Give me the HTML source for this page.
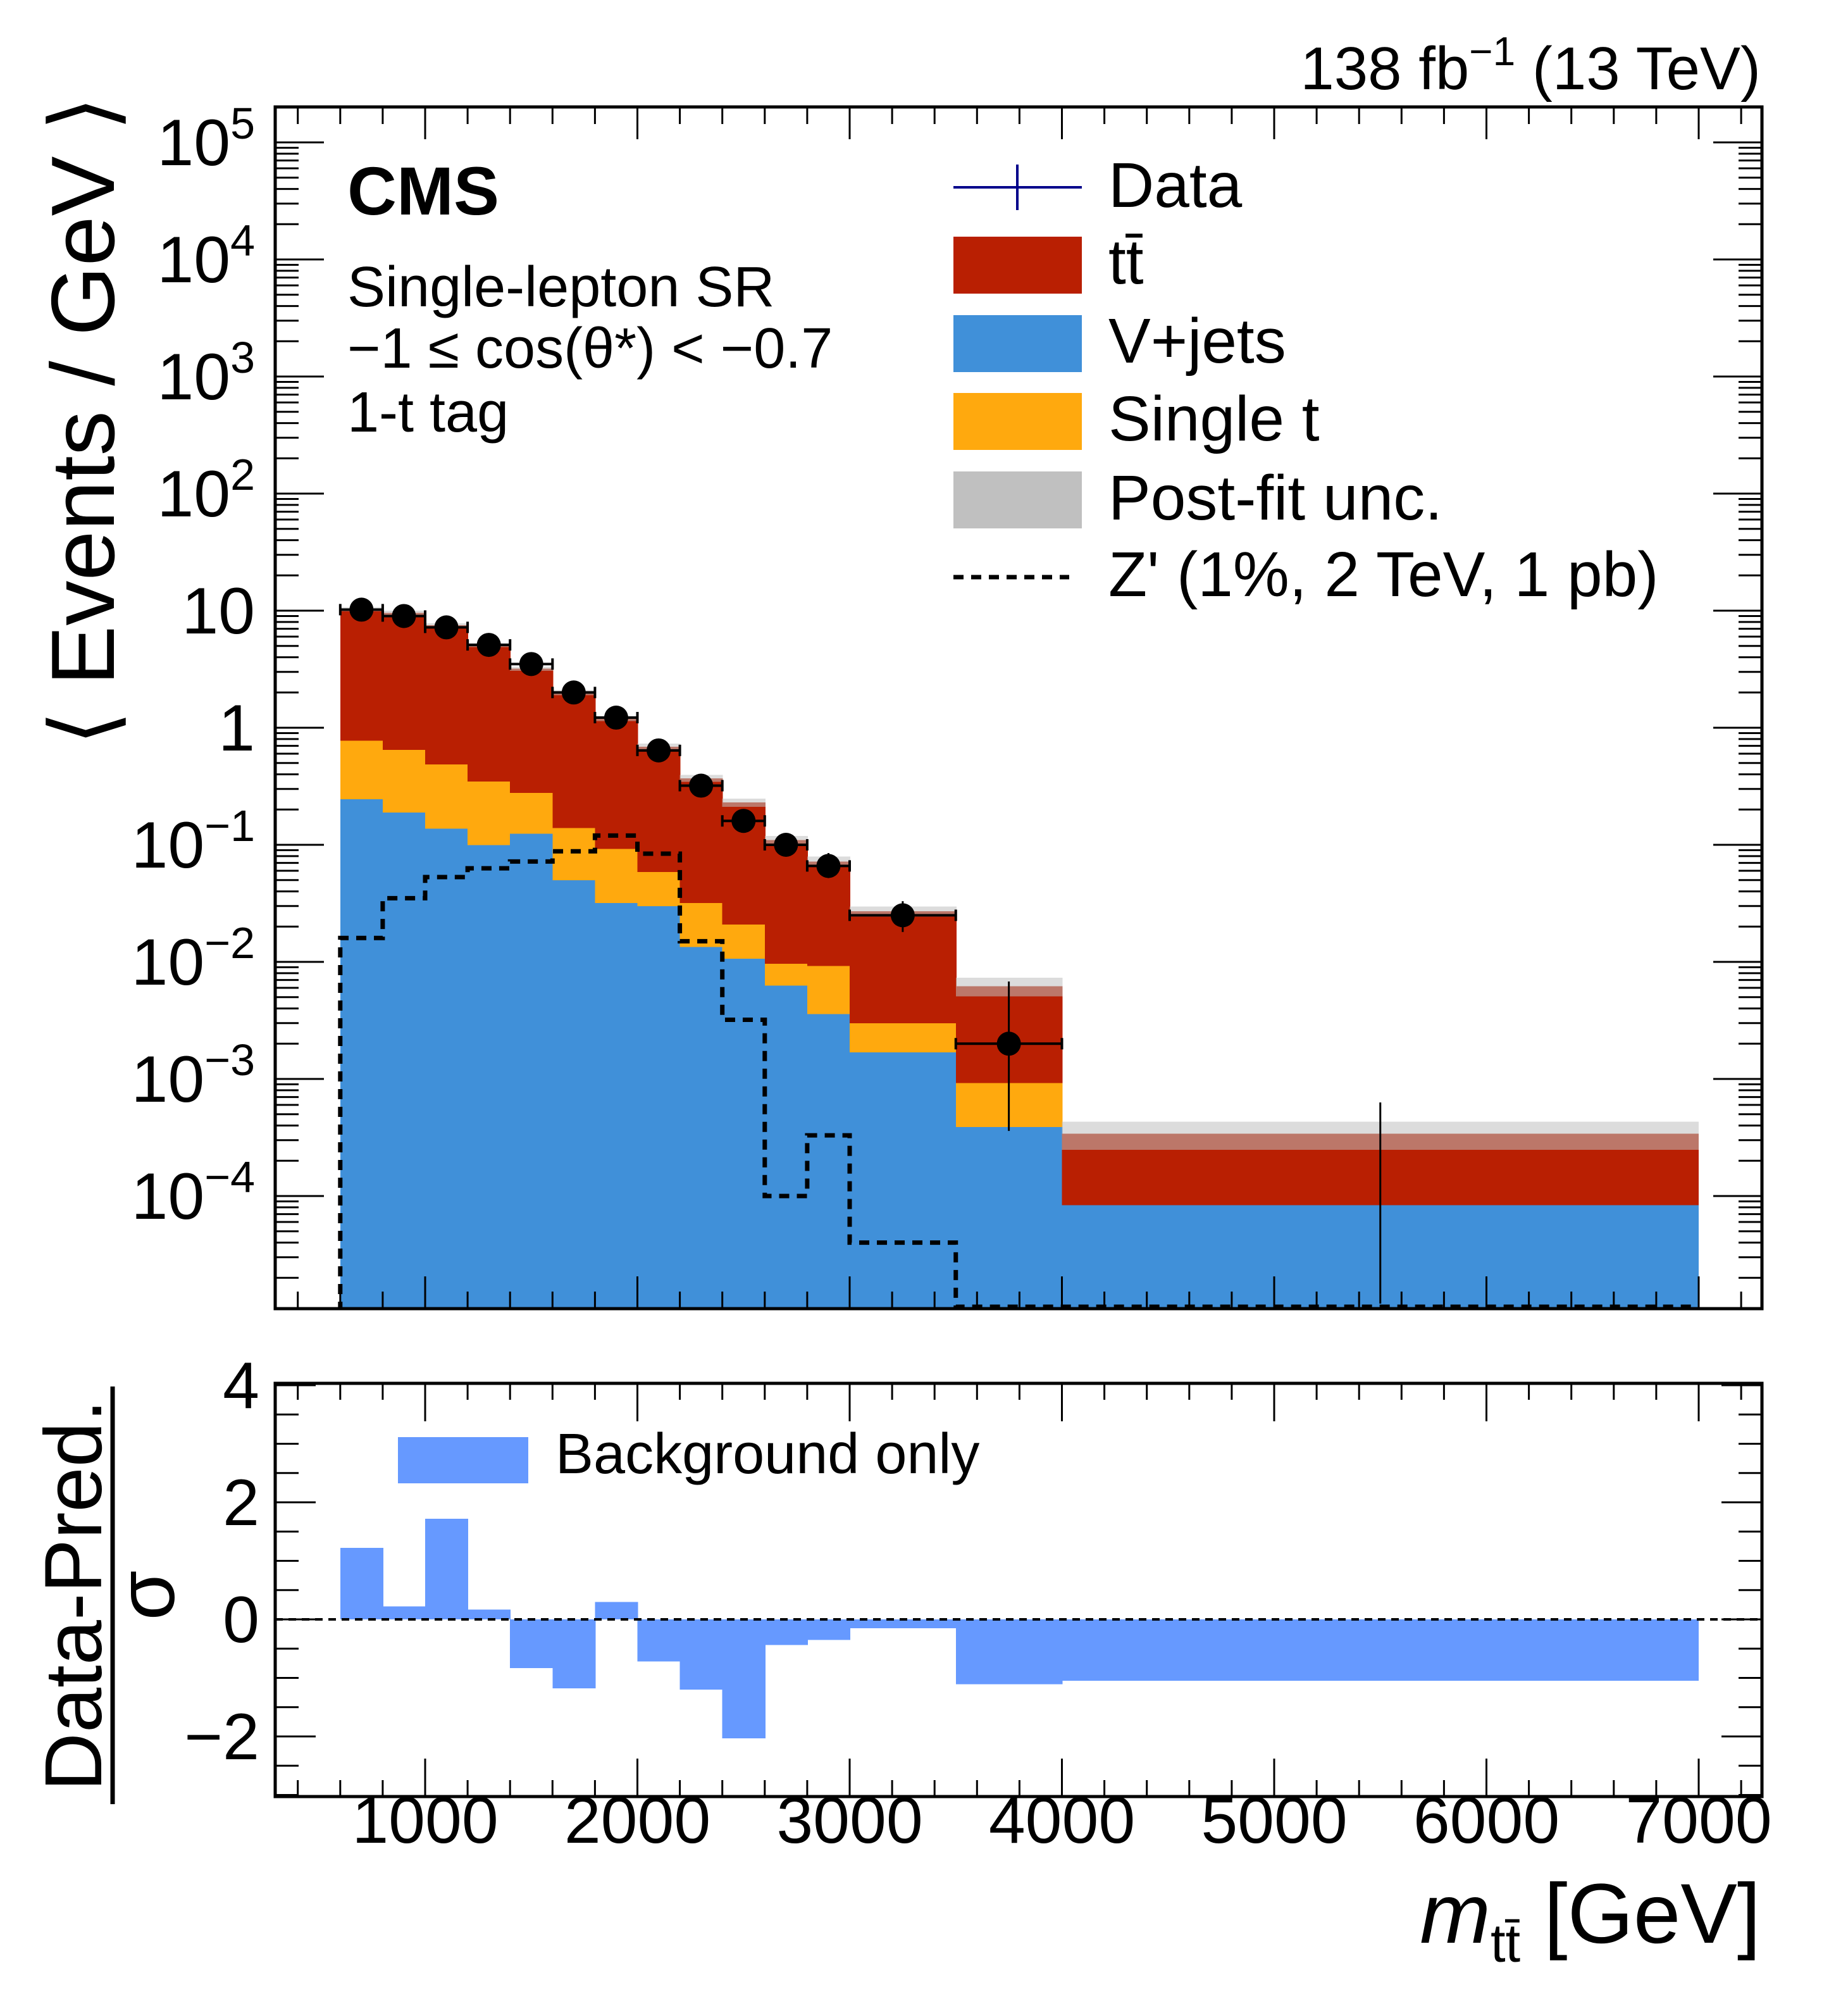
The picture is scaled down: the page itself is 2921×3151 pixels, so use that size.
<!DOCTYPE html>
<html><head><meta charset="utf-8"><style>
html,body{margin:0;padding:0;background:#fff}
svg{display:block}
text{font-family:"Liberation Sans",Arial,sans-serif;fill:#000}
</style></head><body>
<svg id="c" width="2921" height="3151" viewBox="0 0 2921 3151" xmlns="http://www.w3.org/2000/svg">
<defs>
<clipPath id="clipMain"><rect x="435" y="169" width="2350" height="1899"/></clipPath>
<clipPath id="clipRatio"><rect x="435" y="2186" width="2350" height="653"/></clipPath>
</defs>
<g id="main"></g>
<g id="ratio"></g>
<g id="labels">
<text x="2783" y="141" font-size="96" text-anchor="end">138 fb<tspan dy="-38" font-size="64">−1</tspan><tspan dy="38"> (13 TeV)</tspan></text>
<text x="549" y="339" font-size="108" font-weight="bold">CMS</text>
<text x="549" y="484" font-size="90">Single-lepton SR</text>
<text x="549" y="581" font-size="90">−1 ≤ cos(θ*) &lt; −0.7</text>
<text x="549" y="682" font-size="90">1-t tag</text>
<g>
<g><line x1="1507" y1="296" x2="1710" y2="296" stroke="#00008b" stroke-width="4"/><line x1="1608" y1="260" x2="1608" y2="332" stroke="#00008b" stroke-width="4"/><text x="1752" y="327" font-size="100">Data</text></g>
<g><rect x="1507" y="374" width="203" height="90" fill="#b91f02"/><text x="1752" y="448" font-size="100">tt̄</text></g>
<g><rect x="1507" y="498" width="203" height="90" fill="#4090d9"/><text x="1752" y="573" font-size="100">V+jets</text></g>
<g><rect x="1507" y="621" width="203" height="90" fill="#ffa90e"/><text x="1752" y="696" font-size="100">Single t</text></g>
<g><rect x="1507" y="745" width="203" height="90" fill="#c0c0c0"/><text x="1752" y="821" font-size="100">Post-fit unc.</text></g>
<g><line x1="1507" y1="912" x2="1690" y2="912" stroke="#000" stroke-width="7" stroke-dasharray="16,12"/><text x="1752" y="942" font-size="100">Z' (1%, 2 TeV, 1 pb)</text></g>
</g>
<g><rect x="629" y="2271" width="206" height="73" fill="#6699ff"/><text x="878" y="2328" font-size="90">Background only</text></g>
<text transform="translate(180,665) rotate(-90)" font-size="142" text-anchor="middle">⟨ Events / GeV ⟩</text>
<g transform="translate(0,2521) rotate(-90)">
<text x="0" y="160" font-size="128" text-anchor="middle">Data-Pred.</text>
<line x1="-330" y1="178" x2="330" y2="178" stroke="#000" stroke-width="7"/>
<text x="0" y="275" font-size="128" text-anchor="middle">σ</text>
</g>
<text x="2783" y="3070" font-size="134" text-anchor="end"><tspan font-style="italic">m</tspan><tspan dy="30" font-size="85">tt̄</tspan><tspan dy="-30"> [GeV]</tspan></text>
</g>
</svg>
<script>
// ---- data ----
const binEdges = [600,800,1000,1200,1400,1600,1800,2000,2200,2400,2600,2800,3000,3500,4000,7000];
const vjets   = [0.247,0.19,0.138,0.10,0.125,0.05,0.032,0.03,0.0135,0.0107,0.0063,0.0036,0.0017,0.00039,0.000084];
const singleT = [0.533,0.46,0.352,0.25,0.155,0.09,0.061,0.029,0.0185,0.0103,0.0034,0.0057,0.0013,0.00054,0];
const ttbar   = [9.52,8.95,7.01,4.75,2.92,1.86,1.107,0.631,0.338,0.209,0.1003,0.0627,0.024,0.00527,0.000256];
const uncRel  = [0.04,0.04,0.04,0.04,0.04,0.05,0.05,0.06,0.07,0.08,0.08,0.1,0.1,0.18,0.27];
const dataVal = [10.2,9.0,7.2,5.1,3.5,2.0,1.22,0.64,0.32,0.16,0.1,0.066,0.025,0.002,0];
const dataHi  = [10.7,9.5,7.6,5.5,3.8,2.2,1.35,0.71,0.37,0.19,0.12,0.085,0.033,0.0068,0.00063];
const dataLo  = [9.7,8.5,6.8,4.7,3.2,1.8,1.1,0.57,0.28,0.135,0.083,0.052,0.018,0.00036,0];
const zprime  = [0.016,0.035,0.053,0.063,0.072,0.088,0.12,0.084,0.015,0.0032,0.0001,0.00033,0.00004,0,0];
const ratioVal= [1.22,0.22,1.72,0.17,-0.83,-1.18,0.3,-0.72,-1.2,-2.03,-0.44,-0.35,-0.15,-1.11,-1.05];
const xTicks = [1000,2000,3000,4000,5000,6000,7000];
const yDecades = [-4,-3,-2,-1,0,1,2,3,4,5];
const ratioTicks = [-2,0,2,4];

const NS="http://www.w3.org/2000/svg";
const L=435,R=2785,MT=169,MB=2068,RT=2186,RB=2839;
const X=v=>336.5+v*0.3355;
const YL=v=>{if(v<=0)return MB+20;return 225+(5-Math.log10(v))*185;};
const YR=v=>2559-v*92.5;
function el(tag,attrs,parent){const e=document.createElementNS(NS,tag);for(const k in attrs)e.setAttribute(k,attrs[k]);parent.appendChild(e);return e;}
const main=document.getElementById('main'), ratio=document.getElementById('ratio');
const mg=el('g',{'clip-path':'url(#clipMain)','shape-rendering':'crispEdges'},main);
const n=ttbar.length;
for(let i=0;i<n;i++){
  const x0=X(binEdges[i]),x1=X(binEdges[i+1]);
  const w=x1-x0+(i<n-1?1:0);
  const v=vjets[i],s=v+singleT[i],t=s+ttbar[i];
  let r=el('rect',{x:x0,y:YL(v),width:w,height:Math.max(0,MB+20-YL(v)),fill:'#4090d9'},mg);
  
  
  if(singleT[i]>0){r=el('rect',{x:x0,y:YL(s),width:w,height:YL(v)-YL(s)+0.5,fill:'#ffa90e'},mg);
  
  }
  r=el('rect',{x:x0,y:YL(t),width:w,height:YL(s)-YL(t)+0.5,fill:'#b91f02'},mg);
  
  
  r=el('rect',{x:x0,y:YL(t*(1+uncRel[i])),width:w,height:YL(t*(1-uncRel[i]))-YL(t*(1+uncRel[i])),fill:'#c0c0c0','fill-opacity':0.55},mg);
  
  
}
const lg=el('g',{'clip-path':'url(#clipMain)'},main);
let d='M'+X(binEdges[0])+','+(MB+5);
for(let i=0;i<n;i++){const y=Math.min(YL(zprime[i]),MB-3);d+=' L'+X(binEdges[i])+','+y+' L'+X(binEdges[i+1])+','+y;}
let zp=el('path',{d:d,fill:'none',stroke:'#000','stroke-width':7,'stroke-dasharray':'16,12'},lg);


for(let i=0;i<n;i++){
  const x0=X(binEdges[i]),x1=X(binEdges[i+1]),xc=(x0+x1)/2;
  const g=el('g',{},lg);
  
  
  const yh=YL(dataHi[i]),yl=Math.min(YL(dataLo[i]),MB-8);
  el('line',{x1:xc,y1:yh,x2:xc,y2:yl,stroke:'#000','stroke-width':3},g);
  if(dataVal[i]>0){
    const y=YL(dataVal[i]);
    el('line',{x1:x0,y1:y,x2:x1,y2:y,stroke:'#000','stroke-width':4},g);
    el('line',{x1:x0,y1:y-9,x2:x0,y2:y+9,stroke:'#000','stroke-width':4},g);
    el('line',{x1:x1,y1:y-9,x2:x1,y2:y+9,stroke:'#000','stroke-width':4},g);
    el('circle',{cx:xc,cy:y,r:19,fill:'#000'},g);
  }
}
function ticksX(top,bot,maj,mnr,parent){
  for(let v=400;v<=7200;v+=200){const x=X(v);const major=v%1000===0;const len=major?maj:mnr;
    el('line',{x1:x,y1:top,x2:x,y2:top+len,stroke:'#000','stroke-width':3},parent);
    el('line',{x1:x,y1:bot,x2:x,y2:bot-len,stroke:'#000','stroke-width':3},parent);}
}
const ax=el('g',{},main);


ticksX(MT,MB,51,27,ax);
for(let e=-5;e<=5;e++){
  for(let m=1;m<=9;m++){const v=m*Math.pow(10,e);const y=YL(v);if(y<MT+2||y>MB-2)continue;const len=m===1?77:37;
    el('line',{x1:L,y1:y,x2:L+len,y2:y,stroke:'#000','stroke-width':3},ax);
    el('line',{x1:R,y1:y,x2:R-len,y2:y,stroke:'#000','stroke-width':3},ax);}
}
for(const e of yDecades){
  const y=YL(Math.pow(10,e))+36;
  const t=el('text',{x:403,y:y,'font-size':104,'text-anchor':'end'},ax);
  
  
  if(e===0)t.textContent='1';else if(e===1)t.textContent='10';
  else{t.appendChild(document.createTextNode('10'));const s=el('tspan',{dy:-42,'font-size':70},t);s.textContent=e<0?'−'+(-e):String(e);}
}
el('rect',{x:L,y:MT,width:R-L,height:MB-MT,fill:'none',stroke:'#000','stroke-width':5},ax);
const rg=el('g',{'clip-path':'url(#clipRatio)','shape-rendering':'crispEdges'},ratio);
for(let i=0;i<n;i++){
  const x0=X(binEdges[i]),x1=X(binEdges[i+1]);const v=ratioVal[i];
  const r=el('rect',{x:x0,y:Math.min(YR(v),YR(0)),width:x1-x0+(i<n-1?1:0),height:Math.abs(YR(v)-YR(0)),fill:'#6699ff'},rg);
  
  
}
const zl=el('line',{x1:L,y1:YR(0),x2:R,y2:YR(0),stroke:'#000','stroke-width':4,'stroke-dasharray':'12,9'},ratio);


const rax=el('g',{},ratio);


ticksX(RT,RB,60,26,rax);
for(let v=-3;v<=4.01;v+=0.5){const y=YR(v);if(y<RT+2||y>RB-2)continue;const len=(Math.abs(v%2)<0.01)?64:37;
  el('line',{x1:L,y1:y,x2:L+len,y2:y,stroke:'#000','stroke-width':3},rax);
  el('line',{x1:R,y1:y,x2:R-len,y2:y,stroke:'#000','stroke-width':3},rax);}
for(const v of ratioTicks){
  const t=el('text',{x:410,y:YR(v)+36,'font-size':104,'text-anchor':'end'},rax);
  
  
  t.textContent=v<0?'−'+(-v):String(v);
}
for(const v of xTicks){
  const t=el('text',{x:X(v),y:2912,'font-size':104,'text-anchor':'middle'},rax);
  
  
  t.textContent=String(v);
}
el('rect',{x:L,y:RT,width:R-L,height:RB-RT,fill:'none',stroke:'#000','stroke-width':5},rax);
</script>
</body></html>
